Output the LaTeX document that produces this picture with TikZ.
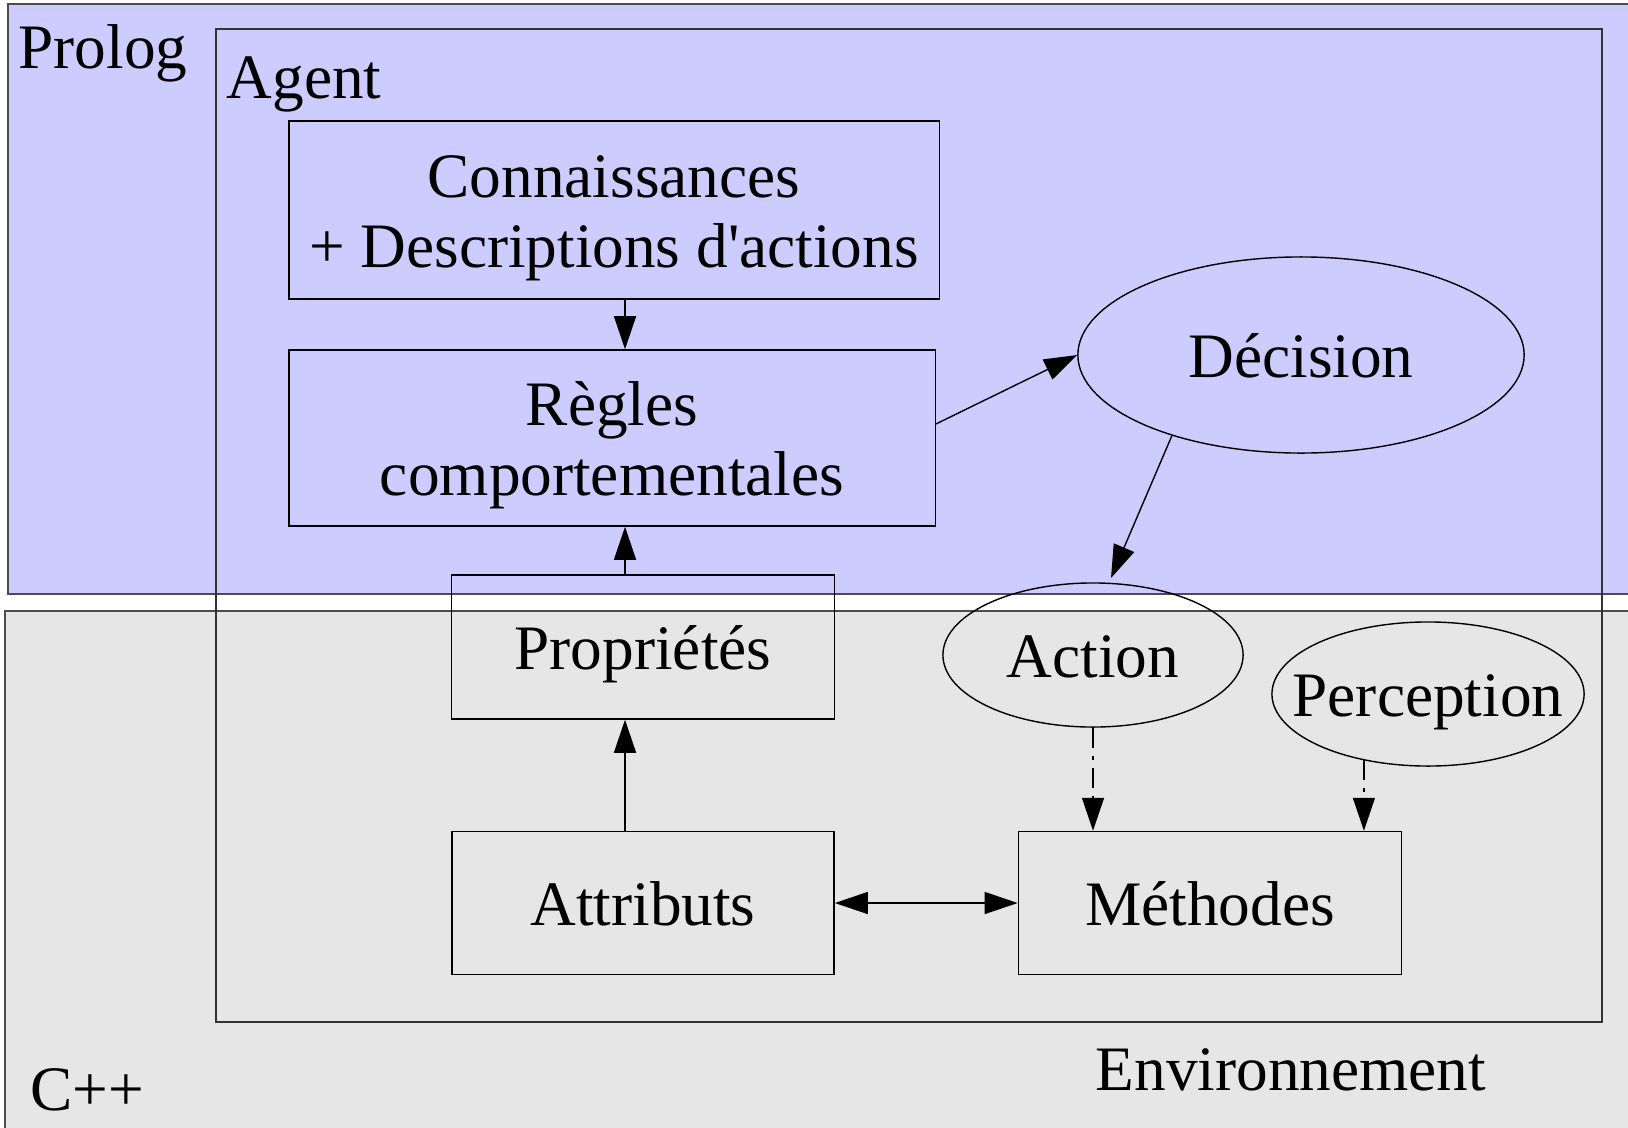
\documentclass[tikz,border=0pt]{standalone}
\usepackage{fontspec}
\setmainfont{Liberation Serif}
\usetikzlibrary{positioning}
\usetikzlibrary{shapes.geometric}
\usetikzlibrary{arrows.meta}
\definecolor{prologbleu}{RGB}{204,204,255}
\definecolor{cppgris}{RGB}{230,230,230}

\begin{document}
\begin{tikzpicture}[x=0.01cm, y=-0.01cm,
  every node/.style={font=\fontsize{18}{20}\selectfont},
  titre/.style={anchor=base west, inner sep=0pt},
  bloc/.style={draw, line width=0.4pt, inner sep=0pt, align=center},
  simple/.style={bloc, text height=12.6pt, text depth=0pt},
  etat/.style={draw, ellipse, line width=0.4pt, inner sep=0pt, text height=12.6pt, text depth=0pt},
  fleche/.style={line width=0.4pt, -{Triangle[length=3.3mm, width=2.2mm]}},
  pointille/.style={fleche, dash pattern=on 0.2cm off 0.08cm on 0.04cm off 0.08cm}]

\useasboundingbox (0,0) rectangle (1628,1127);

% zones Prolog / C++ et agent
\draw[fill=prologbleu, draw=black!70, line width=0.4pt] (8,4) rectangle (1640,594);
\draw[fill=cppgris, draw=black!70, line width=0.4pt] (5,611) rectangle (1640,1140);
\draw[black!80, line width=0.4pt] (216,29) rectangle (1602,1022);

\node[titre] (prolog) at (18,68) {Prolog};
\node[titre] (agent) at (226,98) {Agent};
\node[titre] (cpp) at (30,1110) {C++};
\node[titre] (env) at (1095,1090) {Environnement};

% blocs
\node[bloc, minimum width=6.5cm, minimum height=1.78cm] (conn) at (614,210) {\rule{0pt}{16.5pt}Connaissances\\+ Descriptions d\textquotesingle actions};
\node[bloc, minimum width=6.46cm, minimum height=1.76cm] (regles) at (612,438) {\rule{0pt}{16.5pt}Règles\\comportementales};
\node[simple, minimum width=3.83cm, minimum height=1.44cm] (prop) at (643,647) {Propriétés};
\node[simple, minimum width=3.82cm, minimum height=1.43cm] (attr) at (643,903) {Attributs};
\node[simple, minimum width=3.83cm, minimum height=1.43cm] (meth) at (1210,903) {Méthodes};

\node[etat, minimum width=4.46cm, minimum height=1.96cm] (dec) at (1301,355) {\makebox[0pt]{Décision}};
\node[etat, minimum width=3.0cm, minimum height=1.44cm] (act) at (1093,655) {\makebox[0pt]{Action}};
\node[etat, minimum width=3.12cm, minimum height=1.44cm] (perc) at (1428,694) {\makebox[0pt]{Perception}};

% liaisons
\coordinate (axe) at (625,0);
\coordinate (decfin) at (1111,578);
\draw[fleche] (conn.south -| axe) -- (regles.north -| axe);
\draw[fleche] (prop.north -| axe) -- (regles.south -| axe);
\draw[fleche] (attr.north -| axe) -- (prop.south -| axe);
\draw[line width=0.4pt, {Triangle[length=3.3mm, width=2.2mm]}-{Triangle[length=3.3mm, width=2.2mm]}] (attr.east) -- (meth.west);
\draw[fleche] ([yshift=0.14cm]regles.east) -- (dec.west);
\draw[fleche] (dec.212) -- (decfin);
\draw[pointille] (act.south) -- (act.south |- meth.north);
\draw[pointille] (perc.226) -- (perc.226 |- meth.north);

\end{tikzpicture}
\end{document}
